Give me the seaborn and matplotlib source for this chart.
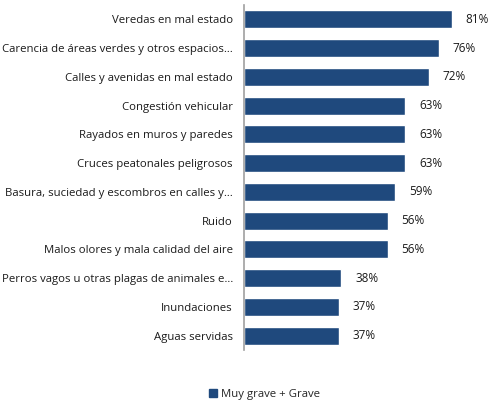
import matplotlib
matplotlib.use("Agg")
import matplotlib.pyplot as plt
import seaborn as sns
import pandas as pd
from matplotlib.patches import Patch

categories = [
    "Veredas en mal estado",
    "Carencia de áreas verdes y otros espacios…",
    "Calles y avenidas en mal estado",
    "Congestión vehicular",
    "Rayados en muros y paredes",
    "Cruces peatonales peligrosos",
    "Basura, suciedad y escombros en calles y…",
    "Ruido",
    "Malos olores y mala calidad del aire",
    "Perros vagos u otras plagas de animales e…",
    "Inundaciones",
    "Aguas servidas",
]
values = [81, 76, 72, 63, 63, 63, 59, 56, 56, 38, 37, 37]
series_name = "Muy grave + Grave"

sns.set_theme(style="white")
plt.rcParams["font.family"] = ["Open Sans", "DejaVu Sans"]

bar_color = "#1F497D"
df = pd.DataFrame({"cat": categories, "val": values})

fig = plt.figure(figsize=(4.9, 4.0), dpi=100)
ax = fig.add_axes([0.498, 0.125, 0.502, 0.8625])

sns.barplot(data=df, x="val", y="cat", color=bar_color, width=0.62,
            saturation=1, ax=ax)

for patch, v in zip(ax.patches, values):
    ax.annotate(f"{v}%", (patch.get_width(), patch.get_y() + patch.get_height() / 2),
                xytext=(10, 0), textcoords="offset points", va="center",
                ha="left", fontsize=8.5, color="#1a1a1a")

ax.set_xlim(0, 96)
ax.set_xlabel("")
ax.set_ylabel("")
ax.set_xticks([])
ax.tick_params(axis="y", length=0, pad=8, labelsize=8.2, labelcolor="#1a1a1a")
for side in ["top", "right", "bottom"]:
    ax.spines[side].set_visible(False)
ax.spines["left"].set_color("#A0A0A0")
ax.spines["left"].set_linewidth(1.2)

fig.legend(handles=[Patch(color=bar_color, label=series_name)],
           loc="center", bbox_to_anchor=(0.54, 0.014), frameon=False,
           fontsize=8.2, handlelength=0.7, handleheight=0.7, handletextpad=0.3)

fig.savefig("out.png", dpi=100)
